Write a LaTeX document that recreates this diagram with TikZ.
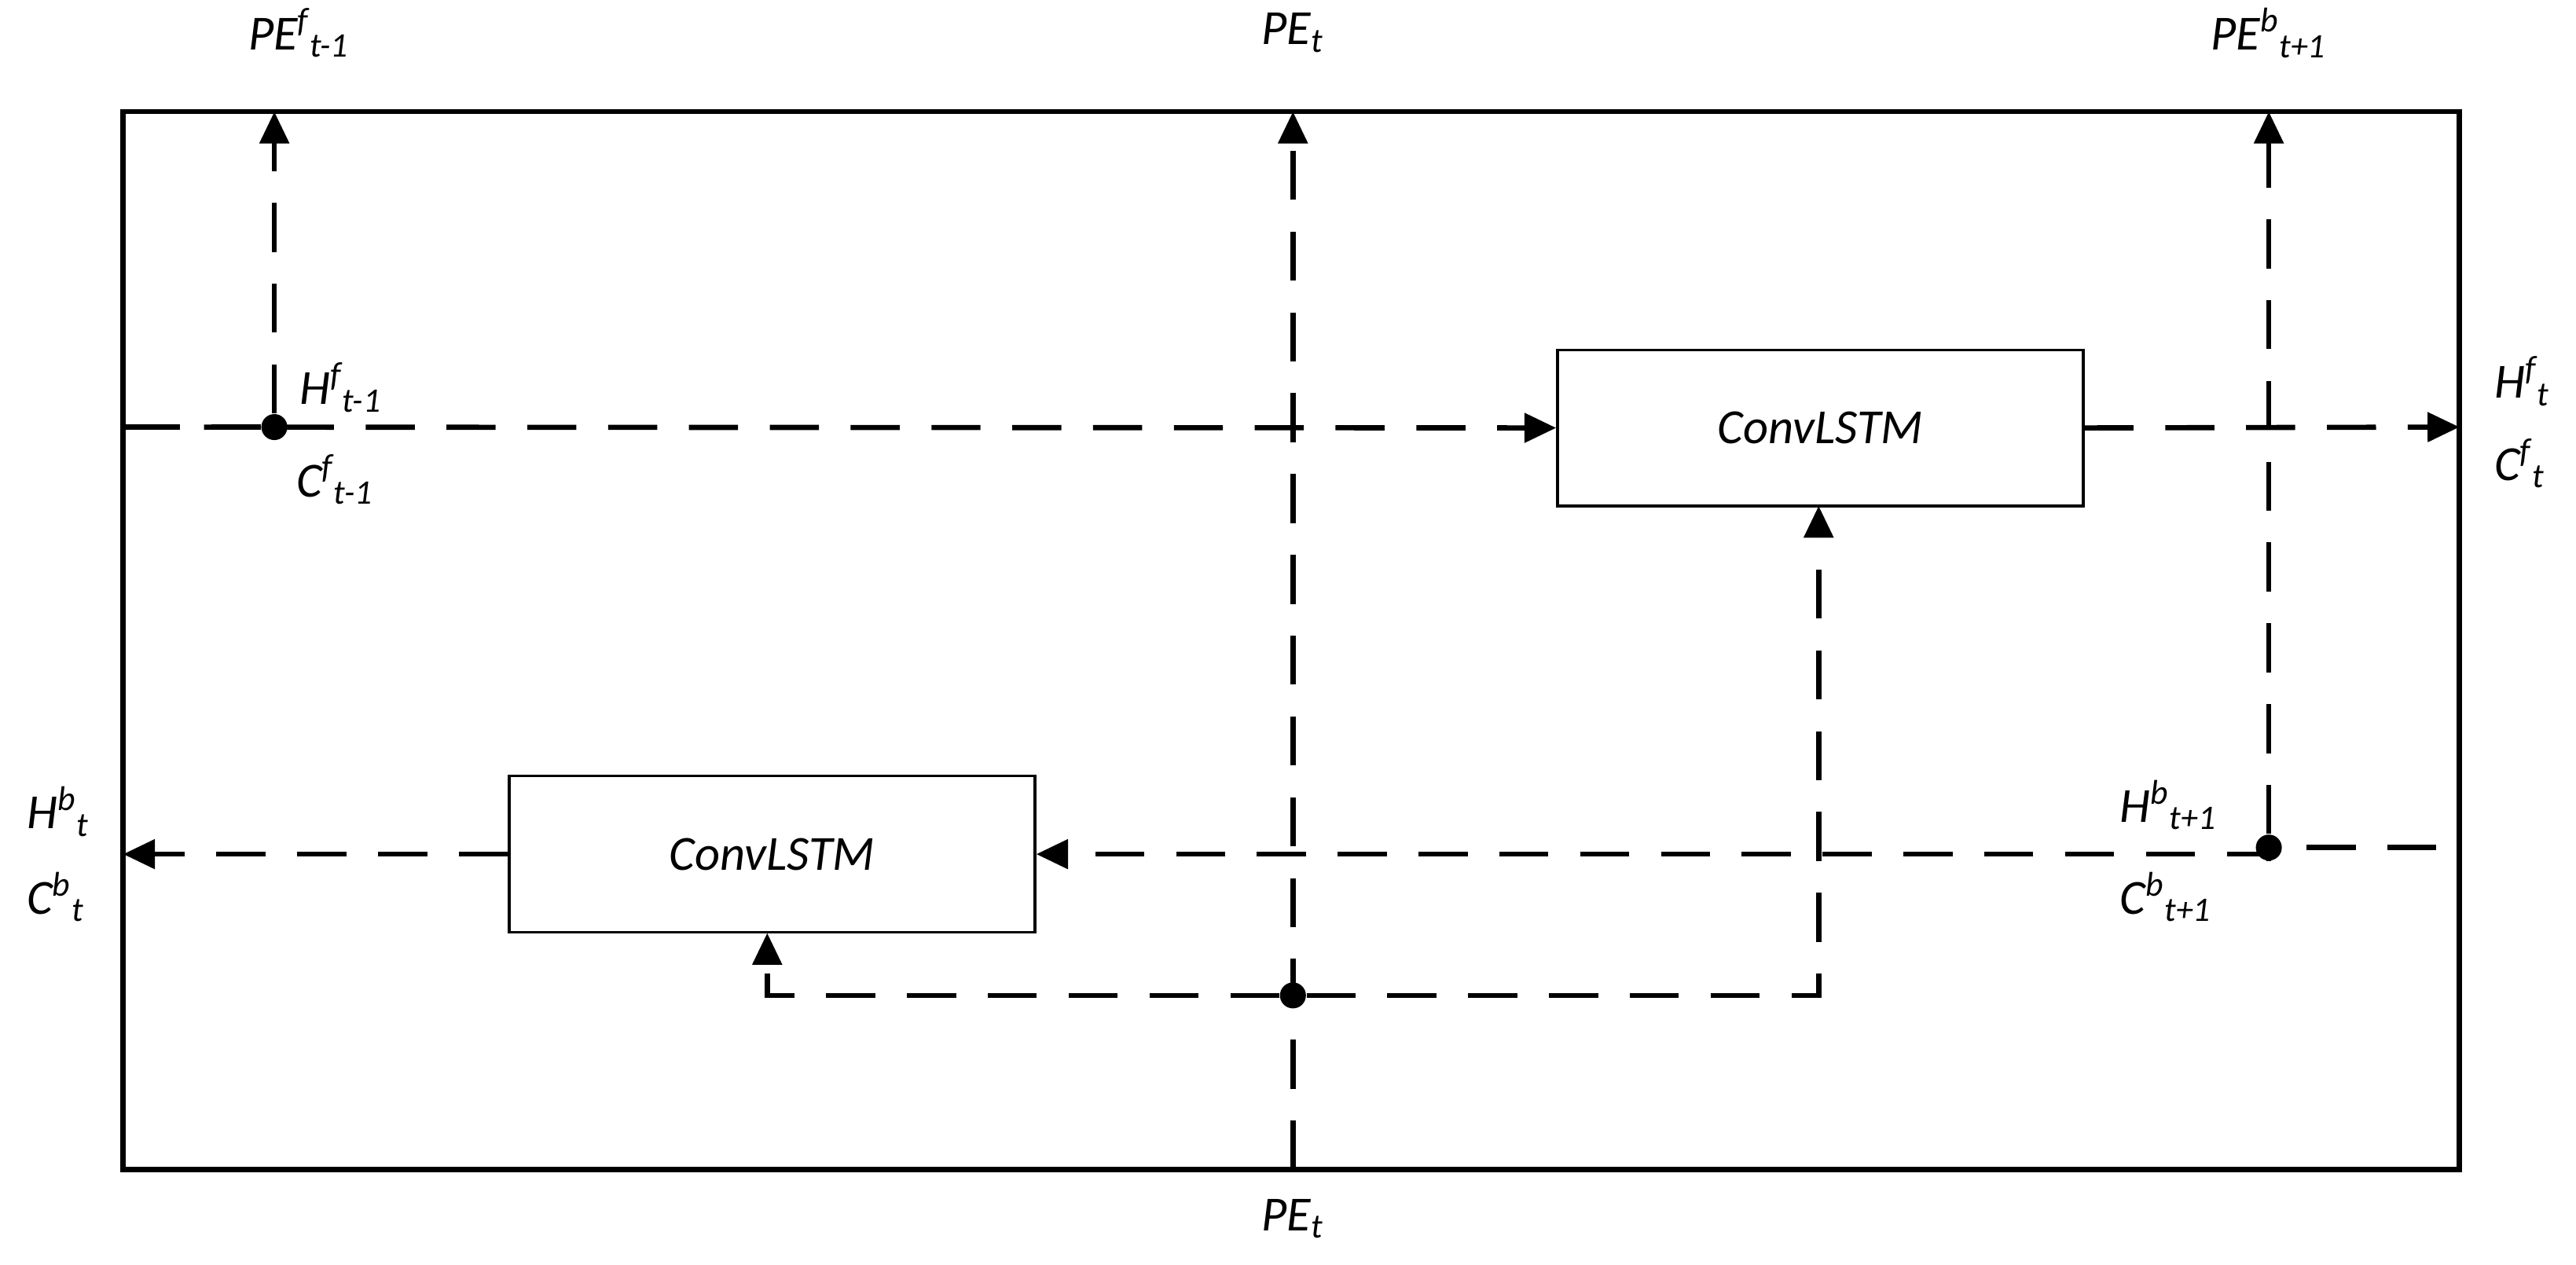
\documentclass[tikz,border=0pt]{standalone}
\usepackage{fontspec}
\setmainfont{Carlito}
\usetikzlibrary{arrows.meta}
\begin{document}
\begin{tikzpicture}[x=0.02cm,y=-0.02cm,
  dl/.style={line width=1.8pt,dash pattern=on 17pt off 11pt},
  ar/.style={dl,-{Triangle[length=11pt,width=10pt]}},
  box/.style={draw,line width=0.9pt,minimum width=320*0.02cm,minimum height=95*0.02cm,inner sep=0pt,font=\itshape\fontsize{17}{20}\selectfont},
  dot/.style={circle,fill,inner sep=0pt,minimum size=9pt},
  lab/.style={font=\itshape\fontsize{17}{20}\selectfont,inner sep=0pt}]
\useasboundingbox (0,0) rectangle (1568,770);
\draw[line width=1.8pt] (75,68) rectangle (1497,712);
\node[box] (b1) at (1108,260.5) {ConvLSTM};
\node[box] (b2) at (470,520) {ConvLSTM};
\node[dot] (d1) at (167,260) {};
\node[dot] (d2) at (1381,516) {};
\node[dot] (d3) at (787,606) {};
\coordinate (l1) at (75,260);
\coordinate (r1) at (1497,260);
\coordinate (r2) at (1483,516);
\coordinate (l2) at (75,520);
\coordinate (t1) at (167,68);
\coordinate (t2) at (787,68);
\coordinate (t3) at (1381,68);
\coordinate (bt) at (787,712);
\draw[ar] (l1) -- (b1.west);
\draw[ar] (b1.east) -- (r1);
\draw[dl] (d1) -- (l1);
\draw[ar] (d1) -- (t1);
\draw[ar] (bt) -- (t2);
\draw[ar] (d2) -- (t3);
\draw[dl] (r2) -- (d2);
\draw[ar] (d2) -- (1381,520) -- (b2.east);
\draw[ar] (b2.west) -- (l2);
\draw[ar] (d3) -- (467,606) -- (467,568);
\draw[ar] (d3) -- (1107,606) -- (1107,308);
\node[lab] (p1) at (182,20) {PE\textsuperscript{f}\textsubscript{t-1}};
\node[lab] (p2) at (787,20) {PE\textsubscript{t}};
\node[lab] (p3) at (1381,20) {PE\textsuperscript{b}\textsubscript{t+1}};
\node[lab] (p4) at (787,742) {PE\textsubscript{t}};
\node[lab,anchor=west] (h1) at (182,236) {H\textsuperscript{f}\textsubscript{t-1}};
\node[lab,anchor=west] (c1) at (180,292) {C\textsuperscript{f}\textsubscript{t-1}};
\node[lab,anchor=west] (h2) at (1518,232) {H\textsuperscript{f}\textsubscript{t}};
\node[lab,anchor=west] (c2) at (1518,282) {C\textsuperscript{f}\textsubscript{t}};
\node[lab,anchor=west] (h3) at (16,494) {H\textsuperscript{b}\textsubscript{t}};
\node[lab,anchor=west] (c3) at (16,546) {C\textsuperscript{b}\textsubscript{t}};
\node[lab,anchor=west] (h4) at (1290,490) {H\textsuperscript{b}\textsubscript{t+1}};
\node[lab,anchor=west] (c4) at (1290,546) {C\textsuperscript{b}\textsubscript{t+1}};
\end{tikzpicture}
\end{document}
